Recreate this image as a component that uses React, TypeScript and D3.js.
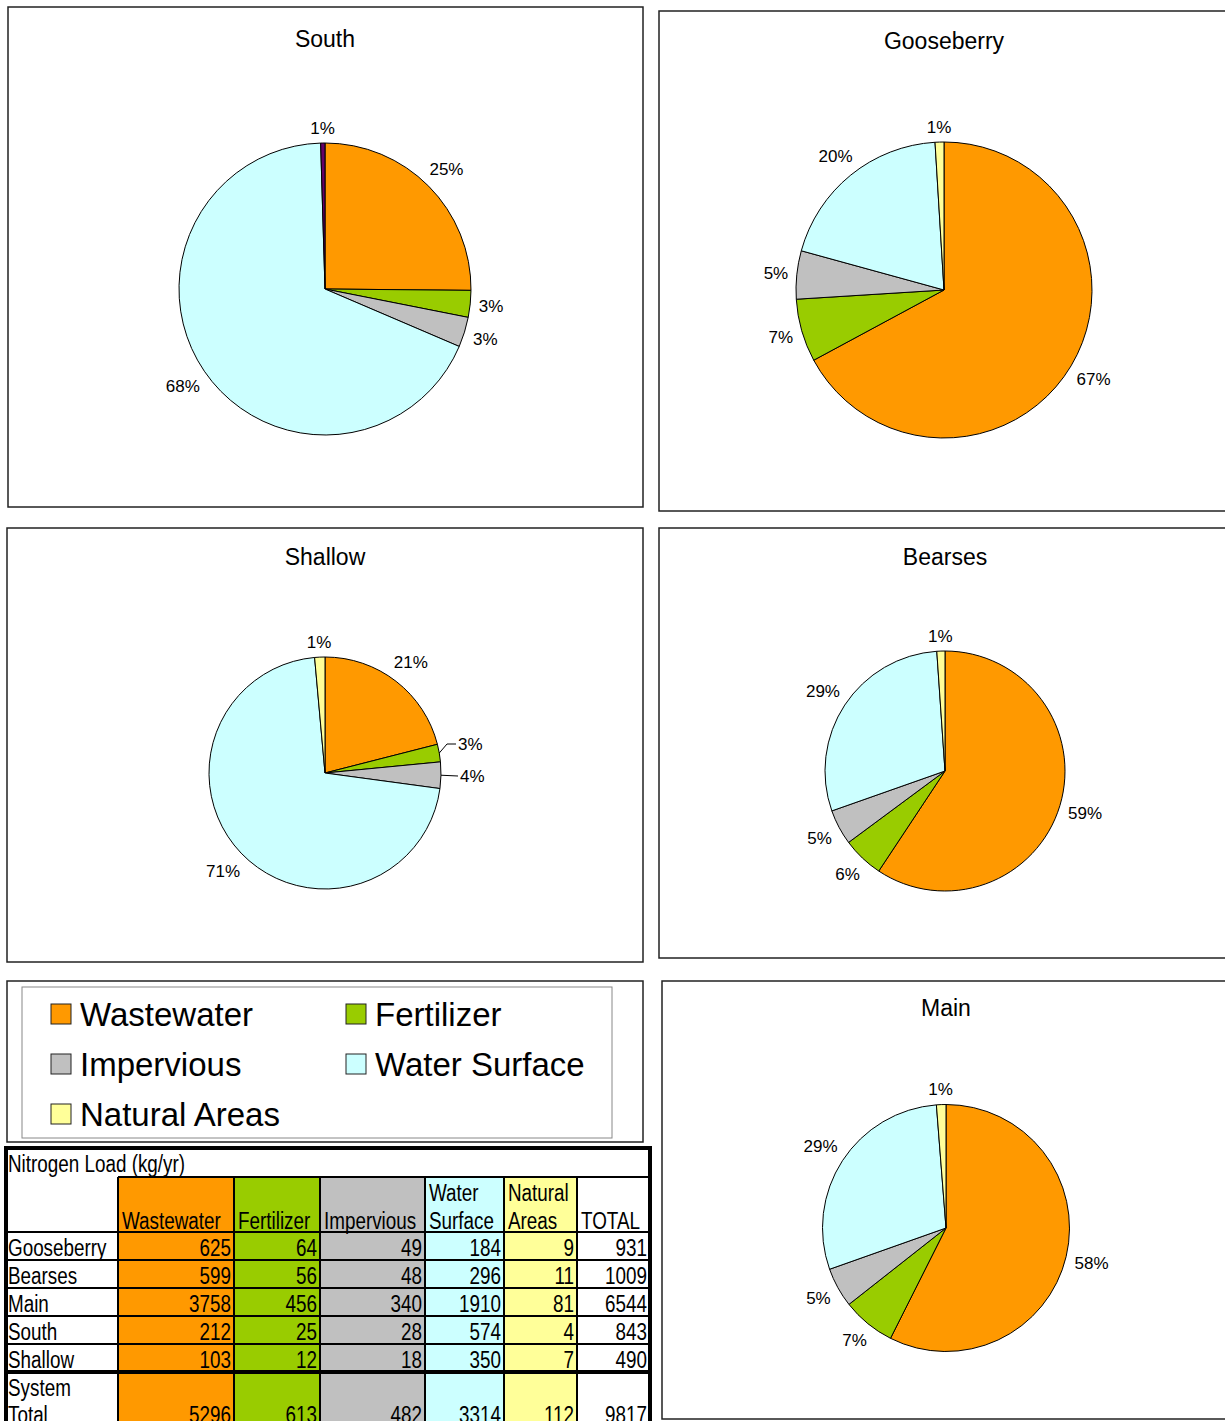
import React from "react";
import * as d3 from "d3";

// ---------------- DATA ----------------
const categories = ["Wastewater", "Fertilizer", "Impervious", "Water Surface", "Natural Areas"];
const categoryColors = ["#FF9900", "#99CC00", "#C0C0C0", "#CCFFFF", "#FFFF99"];

const regionNames = ["Gooseberry", "Bearses", "Main", "South", "Shallow"];
const gooseberryLoads = [625, 64, 49, 184, 9];
const bearsesLoads = [599, 56, 48, 296, 11];
const mainLoads = [3758, 456, 340, 1910, 81];
const southLoads = [212, 25, 28, 574, 4];
const shallowLoads = [103, 12, 18, 350, 7];
const regionTotals = [931, 1009, 6544, 843, 490];
const systemTotalLoads = [5296, 613, 482, 3314, 112];
const systemTotal = 9817;

// percentage labels as printed on each pie
const gooseberryPct = ["67%", "7%", "5%", "20%", "1%"];
const bearsesPct = ["59%", "6%", "5%", "29%", "1%"];
const mainPct = ["58%", "7%", "5%", "29%", "1%"];
const southPct = ["25%", "3%", "3%", "68%", "1%"];
const shallowPct = ["21%", "3%", "4%", "71%", "1%"];

const tableTitle = "Nitrogen Load (kg/yr)";
const headerLines = [["Wastewater"], ["Fertilizer"], ["Impervious"], ["Water", "Surface"], ["Natural", "Areas"]];

// ---------------- LAYOUT ----------------
type Panel = {
  name: string; loads: number[]; pct: string[];
  box: [number, number, number, number]; cx: number; cy: number; r: number; titleY: number;
  colorOverride?: Record<number, string>;
  leaders?: Record<number, { lx: number; ly: number; knee?: [number, number] }>;
};

const panels: Panel[] = [
  { name: "South", loads: southLoads, pct: southPct, box: [8, 7, 643, 507], cx: 325, cy: 289, r: 146, titleY: 47, colorOverride: { 4: "#660066" } },
  { name: "Gooseberry", loads: gooseberryLoads, pct: gooseberryPct, box: [659, 11, 1240, 511], cx: 944, cy: 290, r: 148, titleY: 49 },
  {
    name: "Shallow", loads: shallowLoads, pct: shallowPct, box: [7, 528, 643, 962], cx: 325, cy: 773, r: 116, titleY: 565,
    leaders: { 1: { lx: 458, ly: 744, knee: [447, 744] }, 2: { lx: 460, ly: 776 } },
  },
  { name: "Bearses", loads: bearsesLoads, pct: bearsesPct, box: [659, 528, 1240, 958], cx: 945, cy: 771, r: 120, titleY: 565 },
  { name: "Main", loads: mainLoads, pct: mainPct, box: [662, 981, 1240, 1419], cx: 946, cy: 1228, r: 123.5, titleY: 1016 },
];

const LABEL_FONT = 17;
const FONT = "'Liberation Sans', Arial, Helvetica, sans-serif";

function textWidth(s: string, size: number) {
  let w = 0;
  for (const ch of s) w += ch === "%" ? 0.889 : 0.556;
  return w * size;
}

function PiePanel({ p }: { p: Panel }) {
  const pie = d3.pie<number>().sort(null).value((d) => d);
  const arcs = pie(p.loads);
  const arc = d3.arc<d3.PieArcDatum<number>>().innerRadius(0).outerRadius(p.r);
  const [x0, y0, x1, y1] = p.box;
  const gap = 8;
  return (
    <g>
      <rect x={x0} y={y0} width={x1 - x0} height={y1 - y0} fill="#fff" stroke="#222" strokeWidth={1.5} />
      <text x={p.cx} y={p.titleY} textAnchor="middle" fontFamily={FONT} fontSize={23} fill="#000">{p.name}</text>
      <g transform={`translate(${p.cx},${p.cy})`}>
        {arcs.map((a, i) => (
          <path key={i} d={arc(a) || ""} fill={(p.colorOverride && p.colorOverride[i]) || categoryColors[i]} stroke="#000" strokeWidth={1} strokeLinejoin="round" />
        ))}
      </g>
      {arcs.map((a, i) => {
        const mid = (a.startAngle + a.endAngle) / 2;
        const dx = Math.sin(mid), dy = -Math.cos(mid);
        const label = p.pct[i];
        const lead = p.leaders && p.leaders[i];
        if (lead) {
          const ex = p.cx + p.r * dx, ey = p.cy + p.r * dy;
          const pts: [number, number][] = [[ex, ey]];
          if (lead.knee) pts.push(lead.knee);
          pts.push([lead.lx - 2, lead.ly]);
          return (
            <g key={i}>
              <polyline points={pts.map((q) => q.join(",")).join(" ")} fill="none" stroke="#000" strokeWidth={1} />
              <text x={lead.lx} y={lead.ly + 6} fontFamily={FONT} fontSize={LABEL_FONT} fill="#000">{label}</text>
            </g>
          );
        }
        const w = textWidth(label, LABEL_FONT), h = 14;
        const off = (w / 2) * Math.abs(dx) + (h / 2) * Math.abs(dy);
        const d = p.r + gap + off;
        const lx = p.cx + d * dx, ly = p.cy + d * dy;
        return (
          <text key={i} x={lx} y={ly + 6} textAnchor="middle" fontFamily={FONT} fontSize={LABEL_FONT} fill="#000">{label}</text>
        );
      })}
    </g>
  );
}

function Legend() {
  const cols = [51, 346];
  const rows = [1004, 1054, 1104];
  return (
    <g>
      <rect x={7} y={981} width={636} height={161} fill="#fff" stroke="#222" strokeWidth={1.5} />
      <rect x={22} y={987} width={590} height={151} fill="#fff" stroke="#888" strokeWidth={1} />
      {categories.map((c, i) => {
        const x = cols[i % 2], y = rows[Math.floor(i / 2)];
        return (
          <g key={c}>
            <rect x={x} y={y} width={20} height={20} fill={categoryColors[i]} stroke="#222" strokeWidth={1} />
            <text x={x + 29} y={y + 22} fontFamily={FONT} fontSize={33} fill="#000">{c}</text>
          </g>
        );
      })}
    </g>
  );
}

function NText({ x, y, anchor, children }: { x: number; y: number; anchor?: string; children: any }) {
  return (
    <text transform={`translate(${x},${y}) scale(0.82,1)`} textAnchor={anchor || "start"} fontFamily={FONT} fontSize={23} fill="#000">{children}</text>
  );
}

function DataTable() {
  const colX = [6, 118, 234, 320, 425, 504, 577, 650];
  const titleTop = 1150, headTop = 1177, headBot = 1232, rowH = 28;
  const rowTops = regionNames.map((_, i) => headBot + i * rowH);
  const totTop = headBot + regionNames.length * rowH; // 1372
  const bottom = 1450;
  const allRows = [
    ...regionNames.map((n, i) => ({ name: [n], vals: [gooseberryLoads, bearsesLoads, mainLoads, southLoads, shallowLoads][i], total: regionTotals[i], top: rowTops[i], bot: rowTops[i] + rowH })),
    { name: ["System", "Total"], vals: systemTotalLoads, total: systemTotal, top: totTop, bot: bottom },
  ];
  return (
    <g>
      <rect x={colX[0]} y={1148} width={colX[7] - colX[0]} height={bottom - 1148} fill="#fff" />
      {/* colored columns */}
      {categories.map((c, i) => (
        <rect key={c} x={colX[i + 1]} y={headTop} width={colX[i + 2] - colX[i + 1]} height={bottom - headTop} fill={categoryColors[i]} />
      ))}
      {/* grid lines */}
      <line x1={colX[1]} x2={colX[7]} y1={headTop} y2={headTop} stroke="#000" strokeWidth={2} />
      {[headBot, ...rowTops.slice(1)].map((y, i) => (
        <line key={i} x1={colX[0]} x2={colX[7]} y1={y} y2={y} stroke="#000" strokeWidth={2} />
      ))}
      <line x1={colX[0]} x2={colX[7]} y1={totTop} y2={totTop} stroke="#000" strokeWidth={4} />
      {colX.slice(1, 7).map((x, i) => (
        <line key={i} x1={x} x2={x} y1={headTop} y2={bottom} stroke="#000" strokeWidth={2} />
      ))}
      <rect x={colX[0]} y={1148} width={colX[7] - colX[0]} height={bottom - 1148} fill="none" stroke="#000" strokeWidth={4} />
      {/* title */}
      <NText x={8} y={titleTop + 22}>{tableTitle}</NText>
      {/* headers */}
      {headerLines.map((lines, i) =>
        lines.map((t, k) => (
          <NText key={`${i}-${k}`} x={colX[i + 1] + 4} y={headBot - 3 - (lines.length - 1 - k) * 28}>{t}</NText>
        ))
      )}
      <NText x={colX[6] + 4} y={headBot - 3}>TOTAL</NText>
      {/* rows */}
      {allRows.map((r, ri) => (
        <g key={ri}>
          {r.name.map((t, k) => (
            <NText key={k} x={8} y={r.name.length > 1 ? r.top + 24 + k * 27 : r.bot - 4}>{t}</NText>
          ))}
          {r.vals.map((v, ci) => (
            <NText key={ci} x={colX[ci + 2] - 3} y={r.name.length > 1 ? r.top + 51 : r.bot - 4} anchor="end">{String(v)}</NText>
          ))}
          <NText x={colX[7] - 3} y={r.name.length > 1 ? r.top + 51 : r.bot - 4} anchor="end">{String(r.total)}</NText>
        </g>
      ))}
    </g>
  );
}

export default function App() {
  return (
    <svg width={1225} height={1421} viewBox="0 0 1225 1421" style={{ position: "absolute", left: 0, top: 0, background: "#fff" }}>
      <rect x={0} y={0} width={1225} height={1421} fill="#fff" />
      {panels.map((p) => (
        <PiePanel key={p.name} p={p} />
      ))}
      <Legend />
      <DataTable />
    </svg>
  );
}
